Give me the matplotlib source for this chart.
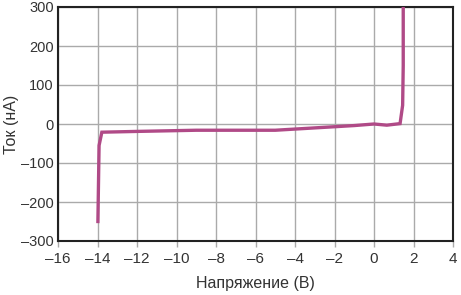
import matplotlib
matplotlib.use("Agg")
import matplotlib.pyplot as plt

plt.rcParams['font.family'] = ['Liberation Sans', 'DejaVu Sans']

volts = [-13.98, -13.92, -13.78, -12, -9, -5, -3, -1, 0, 0.65, 1.32, 1.45, 1.48, 1.48]
current = [-250, -55, -21, -19, -16, -16, -10, -4, 0, -3, 1, 48, 150, 300]

fig = plt.figure(figsize=(4.61, 2.95), dpi=100)
ax = fig.add_axes([58/461, 1-241/295, (453-58)/461, (241-7)/295])
ax.plot(volts, current, color='#b04a87', lw=2.4, solid_joinstyle='miter', zorder=3)
ax.set_xlim(-16, 4)
ax.set_ylim(-300, 300)
ax.set_xticks(range(-16, 5, 2))
ax.set_yticks(range(-300, 301, 100))
ax.set_xticklabels([str(v).replace('-', '\u2013') for v in range(-16, 5, 2)])
ax.set_yticklabels([str(v).replace('-', '\u2013') for v in range(-300, 301, 100)])
ax.grid(True, color='#aaaaaa', lw=1)
ax.set_axisbelow(True)
for s in ax.spines.values():
    s.set_color('#222222')
    s.set_linewidth(1.5)
ax.tick_params(length=4, width=1, color='#aaaaaa', labelsize=11, labelcolor='#333333', pad=4)
ax.tick_params(axis='y', length=0, pad=3, labelsize=10.5)
ax.set_xlabel('Напряжение (В)', fontsize=11.5, color='#333333', labelpad=7)
ax.set_ylabel('Ток (нА)', fontsize=11.5, color='#333333')
ax.yaxis.set_label_coords(-0.1, 0.5)
fig.savefig('out.png', dpi=100)
